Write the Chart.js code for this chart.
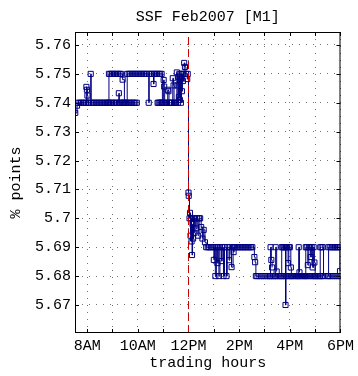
<!DOCTYPE html>
<html>
<head>
<meta charset="utf-8">
<script src="https://cdn.jsdelivr.net/npm/chart.js@4.4.1/dist/chart.umd.min.js"></script>
<style>
  body { margin: 0; background: #fff; }
  canvas { display: block; }
</style>
</head>
<body>
<canvas id="grafico" width="358" height="376"></canvas>
<script>
// horas de negociacion (decimal) y precios, serie inferior
const horasA = [
  7.53, 7.60, 7.64, 7.70, 7.76, 7.82, 7.88, 7.94, 7.97, 7.99, 8.01, 8.03, 8.08, 8.14, 8.16,
  8.22, 8.28, 8.34, 8.40, 8.46, 8.52, 8.58, 8.64, 8.70, 8.76, 8.82, 8.88, 8.94, 9.00, 9.06, 9.12, 9.18,
  9.25, 9.27, 9.30, 9.36, 9.42, 9.48, 9.54, 9.60, 9.66, 9.72, 9.78, 9.84, 9.90, 9.96, 10.00,
  10.78, 10.82, 10.86, 10.90, 10.94, 10.98, 11.02, 11.04, 11.06, 11.10, 11.14, 11.18, 11.21, 11.23,
  11.27, 11.31, 11.35, 11.38, 11.41, 11.43, 11.47, 11.51, 11.54, 11.56, 11.58, 11.60, 11.62, 11.64,
  11.66, 11.68, 11.70, 11.72, 11.74, 11.76, 11.78, 11.80, 11.83, 11.86, 11.90, 11.95, 11.97,
  12.00, 12.01, 12.04, 12.06, 12.08, 12.10, 12.12, 12.14, 12.16, 12.18, 12.20, 12.23,
  12.26, 12.30, 12.34, 12.38, 12.42, 12.46, 12.50, 12.55, 12.60, 12.65, 12.70,
  12.76, 12.82, 12.88, 12.94, 13.00, 13.03, 13.06, 13.10, 13.14, 13.17, 13.20, 13.24,
  13.30, 13.33, 13.38, 13.42, 13.50, 13.53, 13.60, 13.63, 13.70, 13.76, 13.78, 13.80,
  13.86, 13.92, 13.98, 14.04, 14.10, 14.16, 14.22, 14.28, 14.34, 14.40, 14.46, 14.52,
  14.60, 14.63, 14.66, 14.72, 14.80, 14.88, 14.96, 15.04, 15.12, 15.20, 15.28, 15.36,
  15.44, 15.52, 15.60, 15.68, 15.76, 15.84, 15.92, 16.00, 16.08, 16.16, 16.24, 16.32,
  16.40, 16.48, 16.56, 16.64, 16.72, 16.80, 16.88, 16.96, 17.04, 17.12, 17.20, 17.26, 17.30,
  17.52, 17.60, 17.68, 17.76, 17.84, 17.92, 18.00
];
const preciosA = [
  5.7365, 5.739, 5.74, 5.74, 5.74, 5.74, 5.74, 5.74, 5.7455, 5.7445, 5.7425, 5.74, 5.74, 5.75, 5.74,
  5.74, 5.74, 5.74, 5.74, 5.74, 5.74, 5.74, 5.74, 5.74, 5.74, 5.74, 5.74, 5.74, 5.74, 5.74, 5.74, 5.74,
  5.7433, 5.74, 5.74, 5.74, 5.74, 5.74, 5.74, 5.74, 5.74, 5.74, 5.74, 5.74, 5.74, 5.74, null,
  5.74, 5.74, 5.74, 5.74, 5.74, 5.74, 5.7479, 5.7456, 5.74, 5.74, 5.74, 5.7445, 5.744, 5.74,
  5.74, 5.74, 5.74, 5.7485, 5.746, 5.74, 5.74, 5.74, 5.7505, 5.746, 5.74, 5.749, 5.742, 5.75,
  5.741, 5.748, 5.74, 5.75, 5.744, 5.75, 5.7475, 5.75, 5.7538, 5.7524, 5.75, 5.7482, 5.75,
  5.7089, 5.7078, 5.70, 5.7019, 5.694, 5.70, 5.692, 5.6873, 5.698, 5.693, 5.70, 5.695,
  5.70, 5.6965, 5.70, 5.694, 5.70, 5.70, 5.697, 5.693, 5.696, 5.6917, 5.69,
  5.69, 5.69, 5.69, 5.69, 5.6856, 5.69, 5.68, 5.69, 5.6845, 5.69, 5.68, 5.69,
  5.6852, 5.69, 5.68, 5.69, 5.68, 5.69, 5.6855, 5.69, 5.6831, 5.69, 5.6883, 5.69,
  5.69, 5.69, 5.69, 5.69, 5.69, 5.69, 5.69, 5.69, 5.69, 5.69, 5.69, 5.69,
  5.6866, 5.6848, 5.68, 5.68, 5.68, 5.68, 5.68, 5.68, 5.68, 5.68, 5.68, 5.68,
  5.68, 5.68, 5.68, 5.68, 5.68, 5.68, 5.68, 5.68, 5.68, 5.68, 5.68, 5.68,
  5.68, 5.68, 5.68, 5.68, 5.68, 5.68, 5.68, 5.68, 5.68, 5.68, 5.68, 5.68, null,
  5.68, 5.68, 5.68, 5.68, 5.68, 5.68, 5.68
];

// serie superior (tramos a 5.75 por la manana y 5.69 por la tarde)
const horasB = [
  8.84, 8.86, 8.92, 8.98, 9.04, 9.10, 9.16, 9.22, 9.28, 9.34, 9.40, 9.47,
  9.58, 9.64, 9.70, 9.76, 9.82, 9.88, 9.94, 10.00, 10.06, 10.12, 10.18, 10.24, 10.30, 10.36,
  10.43, 10.45, 10.51, 10.57, 10.62, 10.64, 10.70, 10.76, 10.82, 10.88, 10.94, 10.97, 10.99,
  15.22, 15.24, 15.27, 15.30, 15.32, 15.42, 15.44, 15.48, 15.50,
  15.66, 15.68, 15.72, 15.76, 15.80, 15.83, 15.85, 15.89, 15.93, 15.96, 16.00, 16.04, 16.06, 16.08,
  16.33, 16.35, 16.38, 16.40, 16.60, 16.63, 16.67, 16.71, 16.75, 16.79, 16.82, 16.86, 16.90, 16.94, 16.97, 17.00, 17.02,
  17.18, 17.20, 17.25, 17.30, 17.33, 17.35, 17.50, 17.53, 17.60, 17.66, 17.72, 17.78, 17.84, 17.90, 17.96, 17.98
];
const preciosB = [
  5.74, 5.75, 5.75, 5.75, 5.75, 5.75, 5.75, 5.75, 5.75, 5.75, 5.748, 5.74,
  5.75, 5.75, 5.75, 5.75, 5.75, 5.75, 5.75, 5.75, 5.75, 5.75, 5.75, 5.75, 5.75, 5.75,
  5.74, 5.75, 5.75, 5.75, 5.7465, 5.75, 5.75, 5.75, 5.75, 5.75, 5.75, 5.74, null,
  5.68, 5.69, 5.6856, 5.683, null, 5.68, 5.69, 5.6816, null,
  5.68, 5.69, 5.69, 5.69, 5.69, 5.67, 5.69, 5.69, 5.6845, 5.69, 5.69, 5.683, 5.68, null,
  5.68, 5.69, 5.6813, null, 5.68, 5.69, 5.69, 5.6838, 5.69, 5.69, 5.6866, 5.69, 5.683, 5.69, 5.6847, 5.68, null,
  5.68, 5.69, 5.69, 5.69, 5.68, null, 5.68, 5.69, 5.69, 5.69, 5.69, 5.69, 5.69, 5.69, 5.69, 5.6817
];

// ejes
const horasTicks = [8, 9, 10, 11, 12, 13, 14, 15, 16, 17, 18];
const etiquetasX = ['8AM', '', '10AM', '', '12PM', '', '2PM', '', '4PM', '', '6PM'];
const preciosTicks = [5.67, 5.68, 5.69, 5.70, 5.71, 5.72, 5.73, 5.74, 5.75, 5.76];
const horaCorte = 12;
const rangoX = [7.52, 18.0];
const rangoY = [5.6603, 5.7645];

const fuente = { family: "'Liberation Mono', 'DejaVu Sans Mono', monospace", size: 15 };
const azul = '#000080';
const colorGrilla = 'rgba(0,0,0,0.55)';

function armarPuntos(horas, precios) {
    return horas.map((h, i) => ({ x: h, y: precios[i] }));
}

// marco completo con marcas hacia adentro, como en MATLAB
const marcoPlugin = {
    id: 'marco',
    afterDraw(chart) {
        const { ctx, chartArea: a, scales } = chart;
        ctx.save();
        ctx.strokeStyle = '#000';
        ctx.lineWidth = 1;
        ctx.strokeRect(a.left + 0.5, a.top + 0.5, a.right - a.left - 1, a.bottom - a.top - 1);
        ctx.beginPath();
        scales.x.ticks.forEach(t => {
            if (t.value === horaCorte) return;
            const px = Math.round(scales.x.getPixelForValue(t.value)) + 0.5;
            ctx.moveTo(px, a.bottom); ctx.lineTo(px, a.bottom - 4);
            ctx.moveTo(px, a.top); ctx.lineTo(px, a.top + 4);
        });
        scales.y.ticks.forEach(t => {
            const py = Math.round(scales.y.getPixelForValue(t.value)) + 0.5;
            ctx.moveTo(a.left, py); ctx.lineTo(a.left + 4, py);
            ctx.moveTo(a.right, py); ctx.lineTo(a.right - 4, py);
        });
        ctx.stroke();
        ctx.restore();
    }
};

document.addEventListener('DOMContentLoaded', () => {
    const ctx = document.getElementById('grafico').getContext('2d');
    new Chart(ctx, {
        type: 'line',
        data: {
            datasets: [
                {
                    // linea vertical roja discontinua a las 12PM
                    data: [{ x: horaCorte, y: rangoY[0] }, { x: horaCorte, y: rangoY[1] }],
                    borderColor: '#c80000',
                    borderWidth: 1,
                    borderDash: [8, 4],
                    pointRadius: 0
                },
                {
                    data: armarPuntos(horasA, preciosA),
                    borderColor: azul,
                    borderWidth: 1,
                    stepped: true,
                    spanGaps: false,
                    pointStyle: 'rect',
                    pointRadius: 3.6,
                    pointBorderWidth: 1,
                    pointBorderColor: azul,
                    pointBackgroundColor: 'rgba(255,255,255,0)'
                },
                {
                    data: armarPuntos(horasB, preciosB),
                    borderColor: azul,
                    borderWidth: 1,
                    stepped: true,
                    spanGaps: false,
                    pointStyle: 'rect',
                    pointRadius: 3.6,
                    pointBorderWidth: 1,
                    pointBorderColor: azul,
                    pointBackgroundColor: 'rgba(255,255,255,0)'
                }
            ]
        },
        options: {
            responsive: false,
            animation: false,
            devicePixelRatio: 1,
            layout: { padding: { left: 0, right: 16, top: 0, bottom: 0 } },
            plugins: {
                legend: { display: false },
                tooltip: { enabled: false },
                title: {
                    display: true,
                    text: 'SSF Feb2007 [M1]',
                    fullSize: false,
                    color: '#000',
                    font: { ...fuente, weight: 'normal' },
                    padding: { top: 8, bottom: 6 }
                }
            },
            scales: {
                x: {
                    type: 'linear',
                    min: rangoX[0],
                    max: rangoX[1],
                    afterFit: (eje) => { eje.height = 43; },
                    afterBuildTicks: (eje) => { eje.ticks = horasTicks.map(v => ({ value: v })); },
                    ticks: {
                        autoSkip: false,
                        maxRotation: 0,
                        color: '#000',
                        font: fuente,
                        padding: 4,
                        callback: (valor) => etiquetasX[horasTicks.indexOf(valor)]
                    },
                    grid: { color: colorGrilla, lineWidth: 1, tickLength: 0, borderDash: [1, 6] },
                    border: { display: false, dash: [1, 6] },
                    title: { display: true, text: 'trading hours', color: '#000', font: fuente, padding: { top: 0, bottom: 4 } }
                },
                y: {
                    type: 'linear',
                    min: rangoY[0],
                    max: rangoY[1],
                    afterFit: (eje) => { eje.width = 75; },
                    afterBuildTicks: (eje) => { eje.ticks = preciosTicks.map(v => ({ value: v })); },
                    ticks: {
                        color: '#000',
                        font: fuente,
                        padding: 4,
                        callback: (valor) => parseFloat(valor.toFixed(2)).toString()
                    },
                    grid: { color: colorGrilla, lineWidth: 1, tickLength: 0, borderDash: [1, 6] },
                    border: { display: false, dash: [1, 6] },
                    title: { display: true, text: '% points', color: '#000', font: fuente, padding: { top: 7, bottom: 7 } }
                }
            }
        },
        plugins: [marcoPlugin]
    });
});
</script>
</body>
</html>
